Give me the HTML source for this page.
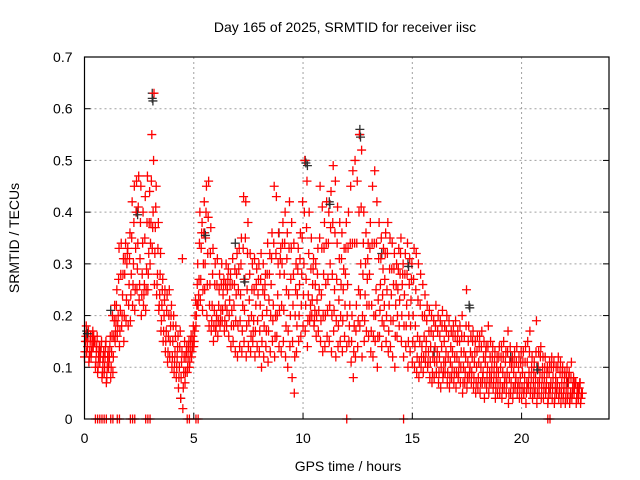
<!DOCTYPE html>
<html><head><meta charset="utf-8"><style>
body{margin:0;background:#fff;}
svg{display:block;font-family:"Liberation Sans",sans-serif;}
</style></head><body>
<svg id="chart" width="640" height="480" viewBox="0 0 640 480">
<text x="345" y="32" font-size="14" text-anchor="middle" fill="#000">Day 165 of 2025, SRMTID for receiver iisc</text>
<text x="348" y="471" font-size="14" text-anchor="middle" fill="#000">GPS time / hours</text>
<text transform="translate(19,238) rotate(-90)" font-size="14" text-anchor="middle" fill="#000">SRMTID / TECUs</text>
<g id="grid"></g>
<g id="marks"></g>
<g id="axes"></g>
</svg>
<script>
const xTicks=[0,5,10,15,20];
const yTicks=[0,0.1,0.2,0.3,0.4,0.5,0.6,0.7];
const yTickLabels=["0","0.1","0.2","0.3","0.4","0.5","0.6","0.7"];
const startHour=0.0, stepHour=0.1;
const lowVals=[.12,.13,.11,.12,.14,.10,.09,.11,.08,.09,
.07,.10,.08,.09,.15,.16,.14,.18,.15,.19,
.18,.19,.22,.21,.25,.23,.20,.22,.21,.25,
.30,.33,.26,.24,.21,.17,.15,.13,.11,.12,
.10,.09,.08,.06,.04,.02,.07,.09,.10,.12,
.14,.18,.22,.23,.21,.25,.20,.18,.17,.15,
.17,.16,.18,.19,.17,.18,.16,.14,.15,.13,
.12,.14,.13,.15,.12,.14,.13,.15,.12,.14,
.13,.10,.12,.14,.11,.13,.15,.12,.16,.14,
.13,.15,.12,.10,.14,.08,.05,.13,.15,.16,
.18,.17,.14,.19,.20,.18,.16,.17,.15,.13,
.14,.16,.15,.13,.17,.12,.14,.15,.13,.16,
.14,.15,.11,.08,.12,.14,.18,.12,.15,.17,
.16,.13,.12,.15,.10,.16,.14,.18,.15,.13,
.14,.12,.10,.16,.18,.15,.12,.14,.10,.13,
.11,.10,.09,.08,.10,.09,.11,.10,.08,.07,
.08,.09,.07,.06,.08,.09,.07,.06,.08,.07,
.06,.08,.07,.05,.07,.06,.08,.07,.06,.05,
.06,.05,.07,.04,.06,.05,.07,.06,.04,.05,
.05,.04,.06,.05,.03,.05,.04,.06,.05,.04,
.04,.05,.03,.06,.05,.04,.05,.03,.05,.04,
.04,.05,.03,.05,.04,.03,.05,.04,.03,.04,
.03,.04,.03,.04,.05,.03,.04,.03];
const lowMidVals=[.13,.15,.12,.13,.16,.11,.10,.12,.09,.10,
.08,.11,.10,.12,.17,.18,.17,.20,.20,.23,
.22,.24,.26,.25,.29,.26,.24,.24,.25,.28,
.34,.37,.32,.26,.22,.19,.17,.15,.13,.15,
.12,.11,.10,.08,.08,.06,.09,.10,.11,.13,
.15,.20,.24,.27,.25,.30,.26,.22,.19,.18,
.18,.19,.19,.21,.19,.21,.20,.18,.18,.19,
.18,.19,.17,.21,.18,.19,.16,.17,.17,.19,
.17,.15,.18,.17,.17,.20,.19,.16,.20,.21,
.22,.21,.18,.17,.20,.15,.12,.18,.20,.22,
.24,.22,.19,.20,.23,.19,.20,.21,.19,.20,
.20,.21,.22,.20,.21,.19,.18,.20,.19,.22,
.20,.18,.15,.13,.17,.19,.24,.20,.19,.22,
.22,.17,.16,.20,.16,.21,.19,.22,.20,.17,
.19,.19,.16,.20,.23,.20,.18,.18,.15,.18,
.15,.14,.12,.11,.12,.12,.13,.11,.11,.09,
.11,.11,.09,.10,.09,.11,.09,.08,.10,.09,
.09,.09,.10,.07,.09,.08,.09,.09,.08,.07,
.08,.07,.08,.07,.08,.07,.08,.07,.06,.07,
.07,.06,.07,.07,.05,.07,.06,.07,.06,.06,
.06,.06,.05,.07,.06,.05,.06,.05,.07,.06,
.06,.06,.04,.06,.06,.04,.06,.05,.05,.05,
.04,.05,.04,.05,.06,.04,.05,.04];
const midVals=[.15,.14,.13,.14,.15,.13,.12,.13,.11,.12,
.10,.12,.13,.16,.19,.20,.21,.24,.28,.30,
.26,.28,.30,.33,.34,.31,.28,.26,.29,.32,
.38,.40,.37,.28,.24,.22,.20,.17,.16,.18,
.15,.13,.12,.10,.11,.09,.12,.12,.13,.14,
.17,.22,.27,.33,.30,.35,.32,.26,.22,.21,
.20,.22,.21,.24,.22,.25,.23,.21,.22,.24,
.25,.24,.22,.27,.25,.23,.20,.19,.22,.24,
.22,.20,.24,.21,.23,.26,.22,.20,.24,.28,
.30,.28,.25,.24,.27,.22,.20,.24,.26,.28,
.30,.27,.24,.22,.26,.21,.23,.25,.24,.28,
.26,.27,.30,.28,.25,.27,.23,.26,.25,.28,
.26,.22,.20,.18,.22,.25,.30,.28,.24,.27,
.28,.22,.20,.25,.23,.26,.24,.27,.25,.22,
.24,.26,.22,.25,.28,.26,.24,.22,.20,.23,
.20,.18,.16,.15,.14,.16,.15,.13,.14,.12,
.14,.13,.12,.14,.11,.13,.12,.11,.13,.12,
.12,.11,.13,.10,.12,.11,.10,.12,.11,.10,
.11,.10,.09,.11,.10,.09,.10,.09,.08,.09,
.10,.09,.08,.09,.08,.10,.09,.08,.07,.08,
.09,.08,.07,.09,.08,.07,.08,.07,.09,.08,
.08,.07,.06,.07,.08,.06,.07,.06,.07,.06,
.06,.07,.05,.06,.07,.05,.06,.05];
const midHighVals=[.16,.16,.15,.16,.15,.14,.13,.14,.12,.14,
.12,.14,.16,.19,.22,.27,.28,.28,.31,.32,
.31,.35,.38,.40,.41,.38,.34,.35,.38,.38,
.46,.50,.41,.33,.28,.25,.23,.21,.20,.20,
.18,.16,.14,.14,.13,.12,.13,.14,.15,.16,
.20,.26,.34,.36,.36,.40,.39,.32,.28,.26,
.26,.25,.26,.26,.26,.27,.26,.26,.26,.28,
.29,.30,.33,.35,.32,.28,.25,.25,.26,.27,
.27,.25,.26,.28,.28,.31,.34,.32,.30,.31,
.34,.34,.31,.33,.33,.28,.25,.29,.31,.35,
.40,.37,.32,.29,.29,.26,.28,.35,.33,.33,
.34,.34,.37,.38,.36,.34,.31,.31,.29,.33,
.33,.34,.34,.34,.34,.40,.41,.34,.30,.31,
.33,.34,.34,.34,.31,.31,.29,.32,.32,.29,
.29,.29,.26,.29,.32,.28,.28,.28,.26,.27,
.27,.25,.23,.22,.20,.20,.19,.17,.17,.16,
.18,.17,.16,.18,.15,.17,.16,.14,.16,.16,
.15,.15,.16,.13,.18,.15,.13,.15,.13,.13,
.14,.14,.12,.13,.14,.12,.12,.11,.10,.12,
.12,.12,.11,.13,.11,.11,.11,.11,.10,.11,
.11,.11,.11,.13,.10,.09,.13,.10,.12,.10,
.10,.09,.09,.10,.10,.08,.10,.09,.09,.08,
.08,.08,.08,.07,.07,.06,.07,.05];
const highVals=[.18,.17,.16,.17,.15,.16,.14,.15,.13,.15,
.13,.16,.20,.22,.25,.33,.34,.31,.34,.33,
.36,.42,.45,.46,.47,.45,.40,.43,.47,.44,
.55,.63,.45,.38,.32,.27,.25,.24,.25,.22,
.20,.18,.16,.17,.31,.15,.14,.15,.16,.18,
.23,.30,.40,.38,.42,.45,.46,.37,.33,.30,
.31,.28,.30,.27,.30,.29,.28,.31,.29,.32,
.33,.35,.43,.42,.38,.32,.30,.31,.29,.30,
.32,.30,.28,.34,.32,.36,.45,.43,.36,.33,
.38,.40,.36,.42,.38,.34,.30,.33,.36,.42,
.50,.46,.40,.35,.31,.30,.33,.45,.41,.38,
.42,.40,.44,.49,.46,.41,.38,.36,.33,.38,
.40,.45,.48,.50,.46,.55,.52,.40,.36,.34,
.38,.45,.48,.42,.38,.35,.33,.36,.38,.35,
.34,.32,.30,.33,.35,.30,.32,.34,.31,.30,
.33,.32,.30,.28,.26,.24,.22,.21,.20,.19,
.22,.20,.19,.21,.18,.20,.19,.17,.18,.19,
.17,.18,.20,.16,.25,.18,.16,.17,.15,.16,
.16,.17,.15,.14,.18,.15,.14,.13,.12,.14,
.14,.15,.13,.17,.14,.12,.13,.14,.12,.13,
.13,.14,.15,.17,.12,.11,.19,.13,.14,.12,
.12,.10,.11,.12,.11,.10,.12,.11,.10,.09,
.10,.09,.11,.08,.07,.06,.07,.05];
const zeroHours=[0.5,0.6,0.7,0.8,0.9,1.0,1.2,1.3,1.5,1.6,2.1,2.2,2.3,2.8,2.9,3.0,4.7,4.8,5.1,5.2,12.0,14.6,21.2,21.3];
const blackHours=[0.1,1.2,2.4,3.1,3.1,4.4,5.5,6.9,7.3,8.9,10.1,10.2,11.2,12.6,12.6,13.6,14.8,16.0,17.6,19.5,20.7,22.1];
const blackVals=[.17,.21,.40,.63,.62,.04,.36,.34,.27,.36,.50,.49,.42,.56,.55,.32,.30,.13,.22,.12,.10,.07];

const L=84.5,R=609,T=57,B=419,XMAX=24,YMAX=0.7;
const xs=h=>L+h/XMAX*(R-L);
const ys=v=>B-v/YMAX*(B-T);
const NS="http://www.w3.org/2000/svg";
function mk(tag,attrs,parent){const e=document.createElementNS(NS,tag);for(const k in attrs)e.setAttribute(k,attrs[k]);parent.appendChild(e);return e;}
const grid=document.getElementById('grid'),marks=document.getElementById('marks'),axes=document.getElementById('axes');
xTicks.forEach((t,i)=>{
  if(t>0){const g=mk('line',{x1:xs(t),x2:xs(t),y1:T,y2:B,stroke:'#a0a0a0','stroke-dasharray':'2,3','stroke-width':1},grid);
  
  }
  const lb=mk('text',{x:xs(t),y:B+24,'font-size':14,'text-anchor':'middle',fill:'#000'},axes);lb.textContent=String(t);
  
  
  mk('line',{x1:xs(t),x2:xs(t),y1:B,y2:B-6,stroke:'#000'},axes);
});
yTicks.forEach((t,i)=>{
  if(t>0&&t<0.7){const g=mk('line',{x1:L,x2:R,y1:ys(t),y2:ys(t),stroke:'#a0a0a0','stroke-dasharray':'2,3','stroke-width':1},grid);
  
  }
  const lb=mk('text',{x:L-12,y:ys(t)+5,'font-size':14,'text-anchor':'end',fill:'#000'},axes);lb.textContent=yTickLabels[i];
  
  
  mk('line',{x1:L,x2:L+6,y1:ys(t),y2:ys(t),stroke:'#000'},axes);
  mk('line',{x1:R,x2:R-6,y1:ys(t),y2:ys(t),stroke:'#000'},axes);
});
const frame=mk('rect',{x:L,y:T,width:R-L,height:B-T,fill:'none',stroke:'#000','stroke-width':1.2},axes);


function plus(h,v,color){
  const x=xs(h),y=ys(v);
  const p=mk('path',{d:`M${x-4.5} ${y}H${x+4.5}M${x} ${y-4.5}V${y+4.5}`,stroke:color,'stroke-width':1.3,fill:'none'},marks);
  
  
}
blackHours.forEach((h,i)=>plus(h,blackVals[i],'#303030'));
[lowVals,lowMidVals,midVals,midHighVals,highVals].forEach((arr,k)=>{
  arr.forEach((v,i)=>{const h=startHour+i*stepHour+k*0.02;plus(h,v,'#ff0000');});
});
blackHours.forEach((h,i)=>{if(i%2===0)plus(h+0.03,blackVals[i]-0.005,'#303030');});
zeroHours.forEach(h=>plus(h,0,'#ff0000'));
</script>
</body></html>
